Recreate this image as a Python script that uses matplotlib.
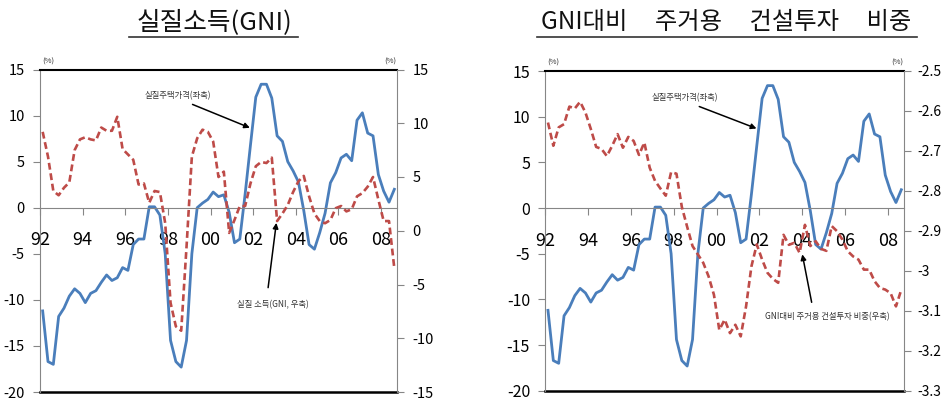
import matplotlib
matplotlib.use("Agg")
import matplotlib.pyplot as plt
from matplotlib.lines import Line2D

plt.rcParams['font.family'] = ['Liberation Sans Narrow', 'Noto Sans CJK KR', 'DejaVu Sans']
plt.rcParams['axes.unicode_minus'] = False

# ---- data (quarterly, 1992Q1 .. 2008Q3) ----
quarters = list(range(67))
year_ticks = [-0.5, 7.5, 15.5, 23.5, 31.5, 39.5, 47.5, 55.5, 63.5]
year_labels = ['92', '94', '96', '98', '00', '02', '04', '06', '08']

house_price = [-11.2, -16.7, -17.0, -11.8, -10.9, -9.6, -8.8, -9.3, -10.3, -9.3,
               -9.0, -8.1, -7.3, -7.9, -7.6, -6.5, -6.8, -4.0, -3.4, -3.4,
               0.1, 0.1, -0.8, -5.0, -14.4, -16.7, -17.3, -14.4, -5.0, 0.0,
               0.5, 0.9, 1.7, 1.2, 1.4, -0.5, -3.8, -3.4, 1.5, 6.8,
               12.0, 13.4, 13.4, 11.9, 7.8, 7.2, 5.0, 4.0, 2.8, -0.3,
               -4.0, -4.5, -2.7, -0.6, 2.7, 3.8, 5.4, 5.8, 5.1, 9.5,
               10.3, 8.1, 7.8, 3.6, 1.8, 0.6, 2.0]

gni = [9.2, 6.9, 3.7, 3.3, 4.0, 4.5, 7.5, 8.5, 8.7, 8.5,
       8.4, 9.6, 9.3, 9.3, 10.6, 7.6, 7.1, 6.6, 4.3, 4.4,
       2.6, 3.7, 3.6, 0.7, -6.7, -8.9, -9.3, -1.5, 6.9, 8.6,
       9.4, 9.2, 8.3, 5.0, 5.5, -0.2, 1.0, 2.3, 2.3, 4.4,
       6.0, 6.4, 6.3, 6.8, 0.9, 1.6, 2.4, 3.6, 4.6, 5.1,
       3.2, 1.6, 0.9, 0.7, 1.0, 2.1, 2.3, 1.8, 2.0, 3.2,
       3.5, 4.1, 5.0, 2.9, 0.9, 0.9, -3.5]

resid_share = [-2.629, -2.687, -2.641, -2.633, -2.589, -2.594, -2.577, -2.604, -2.645, -2.690,
               -2.695, -2.713, -2.687, -2.658, -2.692, -2.665, -2.675, -2.710, -2.679, -2.742,
               -2.775, -2.794, -2.812, -2.753, -2.757, -2.840, -2.890, -2.938, -2.959, -2.980,
               -3.014, -3.060, -3.148, -3.122, -3.156, -3.135, -3.164, -3.089, -2.989, -2.934,
               -2.972, -3.005, -3.020, -3.030, -2.910, -2.935, -2.930, -2.955, -2.885, -2.938,
               -2.926, -2.945, -2.950, -2.888, -2.901, -2.922, -2.951, -2.964, -2.972, -2.997,
               -2.997, -3.026, -3.043, -3.047, -3.056, -3.089, -3.047]

left_ticks = [-20, -15, -10, -5, 0, 5, 10, 15]
gni_ticks = [-15, -10, -5, 0, 5, 10, 15]
share_ticks = [-3.3, -3.2, -3.1, -3.0, -2.9, -2.8, -2.7, -2.6, -2.5]
share_labels = ['-3.3', '-3.2', '-3.1', '-3', '-2.9', '-2.8', '-2.7', '-2.6', '-2.5']

BLUE = '#4A7EBB'
RED = '#BE4B48'
GRAY = '#868686'
KFONT = ['Noto Sans CJK KR', 'DejaVu Sans']

W, H = 943, 400
fig = plt.figure(figsize=(W / 100, H / 100), dpi=100)


def px_rect(x0, x1, ytop, ybot):
    return [x0 / W, 1 - ybot / H, (x1 - x0) / W, (ybot - ytop) / H]


def style_panel(ax, ax2, ylab_size, rlab_size, rpad):
    ax.set_xlim(-0.5, 66.5)
    ax.set_ylim(-20, 15)
    ax.set_yticks(left_ticks)
    ax.set_xticks(year_ticks)
    ax.set_xticklabels(year_labels)
    ax.spines['left'].set_color(GRAY)
    ax.spines['right'].set_visible(False)
    ax.spines['top'].set_color('black')
    ax.spines['top'].set_linewidth(1.5)
    ax.spines['bottom'].set_position(('data', 0))
    ax.spines['bottom'].set_color(GRAY)
    ax.tick_params(axis='x', direction='out', length=5, color=GRAY, pad=12, labelsize=13)
    ax.tick_params(axis='y', direction='out', length=5, color=GRAY, pad=6, labelsize=ylab_size)
    ax.plot([0, 1], [0, 0], transform=ax.transAxes, color='black', lw=1.8, clip_on=False)
    for s in ['top', 'bottom', 'left']:
        ax2.spines[s].set_visible(False)
    ax2.spines['right'].set_color(GRAY)
    ax2.tick_params(axis='y', direction='out', length=5, color=GRAY, pad=rpad, labelsize=rlab_size)
    ax.text(0.005, 1.025, '(%)', transform=ax.transAxes, fontsize=5.5, ha='left', va='center',
            family=KFONT, color='#333333')
    ax.text(0.982, 1.025, '(%)', transform=ax.transAxes, fontsize=5.5, ha='center', va='center',
            family=KFONT, color='#333333')


# ---------------- left panel ----------------
axL = fig.add_axes(px_rect(40, 397, 69.5, 392))
axL.plot(quarters, house_price, color=BLUE, lw=2.0, solid_joinstyle='round')
axL2 = axL.twinx()
axL2.plot(quarters, gni, color=RED, lw=1.9, dashes=(2.6, 1.4))
axL2.set_ylim(-15, 15)
axL2.set_yticks(gni_ticks)
style_panel(axL, axL2, 10.5, 10.5, 6)

axL.text(0.387, 0.919, '실질주택가격(좌축)', transform=axL.transAxes, fontsize=6,
         ha='center', va='center', family=KFONT, color='#333333')
axL.annotate('', xy=(0.595, 0.816), xytext=(0.420, 0.895), xycoords='axes fraction',
             textcoords='axes fraction',
             arrowprops=dict(arrowstyle='-|>', color='black', lw=1.1, mutation_scale=8))
axL.text(0.652, 0.272, '실질 소득(GNI, 우축)', transform=axL.transAxes, fontsize=6,
         ha='center', va='center', family=KFONT, color='#333333')
axL2.annotate('', xy=(0.663, 0.533), xytext=(0.638, 0.315), xycoords='axes fraction',
              textcoords='axes fraction',
              arrowprops=dict(arrowstyle='-|>', color='black', lw=1.1, mutation_scale=8))

# ---------------- right panel ----------------
axR = fig.add_axes(px_rect(545.3, 904, 71, 390.7))
axR.plot(quarters, house_price, color=BLUE, lw=2.0, solid_joinstyle='round')
axR2 = axR.twinx()
axR2.plot(quarters, resid_share, color=RED, lw=1.9, dashes=(2.6, 1.4))
axR2.set_ylim(-3.3, -2.5)
axR2.set_yticks(share_ticks)
axR2.set_yticklabels(share_labels)
style_panel(axR, axR2, 11.5, 10.0, 4.5)

axR.text(0.389, 0.916, '실질주택가격(좌축)', transform=axR.transAxes, fontsize=6,
         ha='center', va='center', family=KFONT, color='#333333')
axR.annotate('', xy=(0.596, 0.817), xytext=(0.422, 0.892), xycoords='axes fraction',
             textcoords='axes fraction',
             arrowprops=dict(arrowstyle='-|>', color='black', lw=1.1, mutation_scale=8))
axR2.text(0.785, 0.231, 'GNI대비 주거용 건설투자 비중(우축)', transform=axR2.transAxes, fontsize=6,
          ha='center', va='center', family=KFONT, color='#333333')
axR2.annotate('', xy=(0.715, 0.435), xytext=(0.744, 0.268), xycoords='axes fraction',
              textcoords='axes fraction',
              arrowprops=dict(arrowstyle='-|>', color='black', lw=1.1, mutation_scale=8))

# ---------------- titles ----------------
fig.text(214 / W, 1 - 22 / H, '실질소득(GNI)', fontsize=18.5, ha='center', va='center',
         family=KFONT, color='#111111')
fig.add_artist(Line2D([129 / W, 298 / W], [1 - 36.7 / H] * 2, color='#333333', lw=1.2))
fig.text(726.5 / W, 1 - 22 / H, 'GNI대비     주거용     건설투자     비중', fontsize=17.5,
         ha='center', va='center', family=KFONT, color='#111111')
fig.add_artist(Line2D([536.5 / W, 917 / W], [1 - 37.3 / H] * 2, color='#333333', lw=1.2))

fig.savefig('out.png', dpi=100)
